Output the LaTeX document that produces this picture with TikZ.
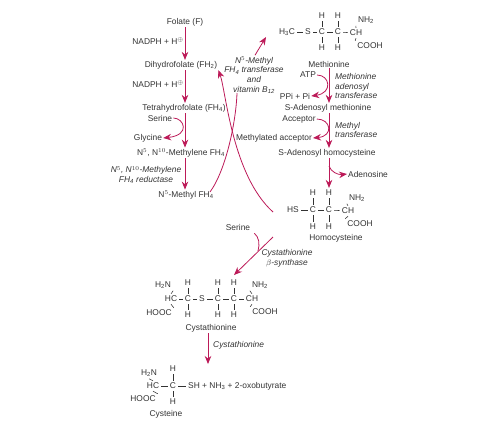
\documentclass[tikz,border=0pt]{standalone}
\usepackage{fontspec}
\setmainfont{Liberation Sans}
\usetikzlibrary{arrows.meta}
\definecolor{pathred}{HTML}{BC1A58}
\definecolor{pathink}{HTML}{333333}
\newcommand{\lo}[1]{\textsubscript{#1}}
\newcommand{\fhfour}{FH\lo{4}}
\newcommand{\hplus}{H$^{\oplus}$}
\tikzset{
  lbl/.style={font=\fontsize{8.4}{9.7}\selectfont, text=pathink, inner sep=1pt, align=center},
  enz/.style={font=\fontsize{8.4}{9.7}\selectfont\itshape, text=pathink, inner sep=1pt, align=center},
  atom/.style={font=\fontsize{8.4}{9.7}\selectfont, text=pathink, inner sep=2pt},
  bond/.style={draw=pathink, line width=0.55pt},
  arr/.style={-{Stealth[length=8pt,width=6.5pt]}, draw=pathred, fill=pathred, line width=0.85pt},
  branch/.style={draw=pathred, fill=none, line width=0.8pt},
}
\begin{document}
\begin{tikzpicture}[x=1pt,y=-1pt]
  \useasboundingbox (0,0) rectangle (500,421);
  % axes of the vertical arrows
  \coordinate (leftaxis) at (185,0);
  \coordinate (rightaxis) at (329,0);
  \coordinate (lowaxis) at (208,0);
  % folate side
  \node[lbl] (folate) at (185,22) {Folate (F)};
  \node[lbl] (nadpha) at (158,41) {NADPH + \hplus};
  \node[lbl] (dihydro) at (181,65) {Dihydrofolate (FH\lo{2})};
  \node[lbl] (nadphb) at (158,84) {NADPH + \hplus};
  \node[lbl] (tetra) at (184,108) {Tetrahydrofolate (\fhfour)};
  \node[lbl] (serinea) at (160,118) {Serine};
  \node[lbl] (glycine) at (148,138) {Glycine};
  \node[lbl] (methylene) at (181,153) {N$^{5}$, N$^{10}$-Methylene \fhfour};
  \node[enz] (reductase) at (146,175) {N$^{5}$, N$^{10}$-Methylene\\\fhfour{} reductase};
  \node[lbl] (methylfh) at (186,195) {N$^{5}$-Methyl \fhfour};
  \node[enz] (transf) at (254,75) {N$^{5}$-Methyl\\\fhfour{} transferase\\and\\vitamin B\lo{12}};
  % methionine
  \foreach \n/\x/\y/\t in {mc/287/32/H\lo{3}C, ms/308/32/S, ma/322/32/C, mb/338/32/C, mh/356/33/CH,
      mta/322/16/H, mtb/338/16/H, mua/322/48/H, mub/338/48/H, mnh/366/20/NH\lo{2}, mco/370/46/COOH}
    \node[atom] (\n) at (\x,\y) {\t};
  \foreach \a/\b in {mc/ms, ms/ma, ma/mb, mb/mh, ma/mta, mb/mtb, ma/mua, mb/mub, mh.north/mnh.south west, mh.south/mco.north west}
    \draw[bond] (\a) -- (\b);
  \node[lbl] (methionine) at (329,64) {Methionine};
  \node[lbl] (atp) at (308,75) {ATP};
  \node[lbl] (ppi) at (295,96) {PPi + Pi};
  \node[enz,anchor=west,align=left] (adenosyl) at (334,86) {Methionine\\adenosyl\\transferase};
  \node[lbl] (samet) at (328,108) {S-Adenosyl methionine};
  \node[lbl] (acceptor) at (299,119) {Acceptor};
  \node[lbl] (methacc) at (274,138) {Methylated acceptor};
  \node[enz,anchor=west,align=left] (methtr) at (334,130) {Methyl\\transferase};
  \node[lbl] (sahomo) at (327,153) {S-Adenosyl homocysteine};
  \node[lbl,anchor=west] (adenosine) at (347,174) {Adenosine};
  % homocysteine
  \foreach \n/\x/\y/\t in {hs/293/210/HS, ha/313/210/C, hb/329/210/C, hh/348/211/CH,
      hta/313/193/H, htb/329/193/H, hua/313/227/H, hub/329/227/H, hnh/357/198/NH\lo{2}, hco/360/224/COOH}
    \node[atom] (\n) at (\x,\y) {\t};
  \foreach \a/\b in {hs/ha, ha/hb, hb/hh, ha/hta, hb/htb, ha/hua, hb/hub, hh.north/hnh.south west, hh.south/hco.north west}
    \draw[bond] (\a) -- (\b);
  \node[lbl] (homocys) at (336,238) {Homocysteine};
  \node[lbl] (serineb) at (238,227) {Serine};
  \node[enz] (synthase) at (287,258) {Cystathionine\\$\beta$-synthase};
  % cystathionine
  \foreach \n/\x/\y/\t in {ch/171/299/HC, ca/188/299/C, cs/202/299/S, cb/218/299/C, cc/234/299/C, cd/252/299/CH,
      cnl/163/285/H\lo{2}N, cta/188/283/H, ctb/218/283/H, ctc/234/283/H, cnh/260/285/NH\lo{2},
      col/159/313/HOOC, cua/188/315/H, cub/218/315/H, cuc/234/315/H, cor/265/312/COOH}
    \node[atom] (\n) at (\x,\y) {\t};
  \foreach \a/\b in {ch/ca, ca/cs, cs/cb, cb/cc, cc/cd, ca/cta, cb/ctb, cc/ctc, ca/cua, cb/cub, cc/cuc,
      ch.north/cnl.south east, ch.south/col.north east, cd.north/cnh.south west, cd.south/cor.north west}
    \draw[bond] (\a) -- (\b);
  \node[lbl] (cystath) at (211,328) {Cystathionine};
  \node[enz,anchor=west] (cysenz) at (212,345) {Cystathionine};
  % cysteine
  \foreach \n/\x/\y/\t in {ya/153/386/HC, yb/173/386/C, ynh/149/373/H\lo{2}N, yt/173/369/H, yu/173/402/H, yoh/143/399/HOOC}
    \node[atom] (\n) at (\x,\y) {\t};
  \node[atom,anchor=west] (ysh) at (186,386) {SH + NH\lo{3} + 2-oxobutyrate};
  \foreach \a/\b in {ya/yb, yb/ysh, yb/yt, yb/yu, ya.north/ynh.south, ya.south/yoh.north east}
    \draw[bond] (\a) -- (\b);
  \node[lbl] (cysteine) at (166,414) {Cysteine};
  % vertical arrows
  \draw[arr] (folate.south -| leftaxis) -- (dihydro.north -| leftaxis);
  \draw[arr] (dihydro.south -| leftaxis) -- (tetra.north -| leftaxis);
  \draw[arr] (tetra.south -| leftaxis) -- (methylene.north -| leftaxis);
  \draw[arr] (methylene.south -| leftaxis) -- (methylfh.north -| leftaxis);
  \draw[arr] (methionine.south -| rightaxis) -- (samet.north -| rightaxis);
  \draw[arr] (samet.south -| rightaxis) -- (sahomo.north -| rightaxis);
  \draw[arr] (sahomo.south -| rightaxis) -- (htb.north -| rightaxis);
  \draw[arr] (cystath.south -| lowaxis) -- (lowaxis |- 0,364);
  % side branches
  \draw[arr,branch] (serinea.east) .. controls (184,118) and (191,135) .. (glycine.east);
  \draw[arr,branch] (atp.east) .. controls (330,75) and (333,93) .. (ppi.east);
  \draw[arr,branch] (acceptor.east) .. controls (331,119) and (334,136) .. (methacc.east);
  \coordinate (adenstart) at (329,166);
  \draw[arr,branch] (adenstart) .. controls (331,172) and (338,175) .. (adenosine.west);
  % long curves
  \coordinate (vitend) at (237,93);
  \coordinate (homoend) at (273,212);
  \coordinate (metout) at (266,37);
  \coordinate (methstart) at (210,192);
  \draw[branch] (methstart) .. controls (226,170) and (236,122) .. (vitend);
  \draw[arr,branch] (homoend) .. controls (232,175) and (226,91) .. (dihydro.south east);
  \draw[arr,branch] (transf.north) ++(1,0) -- (metout);
  % cystathionine beta-synthase
  \coordinate (synstart) at (273,237);
  \coordinate (syntip) at (234,275);
  \coordinate (synjoin) at (258,251);
  \draw[arr,branch] (synstart) -- (syntip);
  \draw[branch] (serineb.south east) ++(3,2) .. controls (259,237) and (260,244) .. (synjoin);
\end{tikzpicture}
\end{document}
